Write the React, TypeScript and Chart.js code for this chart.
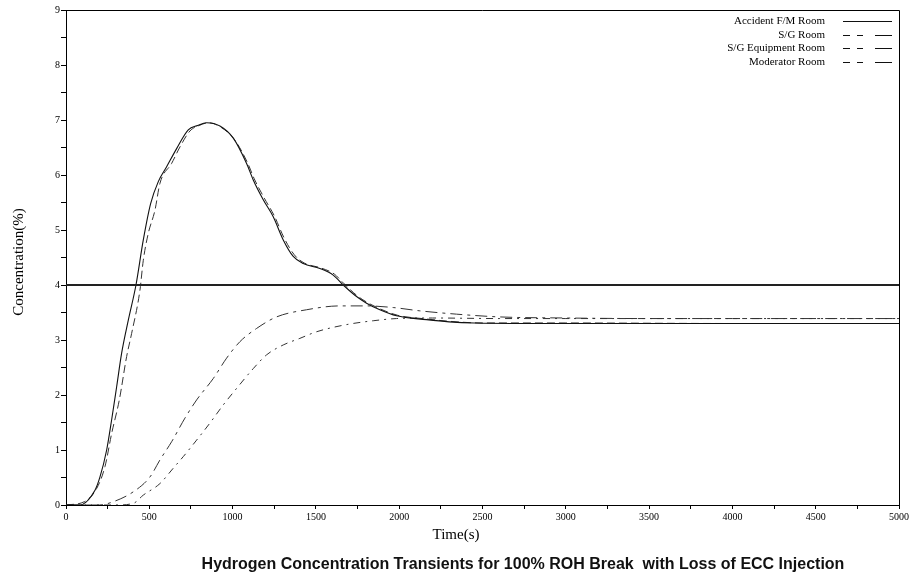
import React, { useEffect, useRef } from "react";
import { Chart, registerables } from "chart.js";

Chart.register(...registerables);

const accidentTime = [0, 80, 174, 204, 244, 274, 304, 334, 374, 420, 464, 508, 554, 604, 664, 734, 790, 844, 924, 1004, 1084, 1124, 1184, 1244, 1304, 1364, 1424, 1524, 1604, 1664, 1744, 1804, 1884, 1984, 2164, 2300, 2450, 3000, 4000, 5000];
const accidentConc = [0, 0, 0.27, 0.51, 1.0, 1.55, 2.15, 2.76, 3.36, 4.0, 4.82, 5.48, 5.88, 6.15, 6.48, 6.82, 6.9, 6.95, 6.89, 6.67, 6.21, 5.91, 5.55, 5.24, 4.82, 4.52, 4.39, 4.3, 4.18, 4.0, 3.79, 3.67, 3.55, 3.44, 3.37, 3.33, 3.31, 3.3, 3.3, 3.3];

const sgTime = [0, 110, 184, 234, 274, 320, 364, 394, 444, 464, 494, 534, 564, 634, 684, 744, 800, 854, 934, 1010, 1090, 1130, 1190, 1250, 1310, 1370, 1430, 1530, 1610, 1670, 1750, 1810, 1890, 1990, 2170, 2300, 2500, 3000, 4000, 5000];
const sgConc = [0, 0.06, 0.3, 0.7, 1.3, 1.91, 2.7, 3.12, 3.91, 4.45, 4.94, 5.36, 5.85, 6.21, 6.51, 6.8, 6.9, 6.95, 6.86, 6.65, 6.22, 5.93, 5.58, 5.26, 4.85, 4.55, 4.4, 4.31, 4.2, 4.02, 3.8, 3.68, 3.56, 3.45, 3.38, 3.34, 3.31, 3.31, 3.3, 3.3];

const equipTime = [0, 200, 284, 404, 504, 564, 634, 714, 784, 884, 964, 1044, 1144, 1264, 1444, 1644, 1804, 1964, 2124, 2344, 2600, 3000, 3500, 4000, 5000];
const equipConc = [0, 0, 0.06, 0.24, 0.51, 0.82, 1.15, 1.58, 1.91, 2.3, 2.67, 2.97, 3.21, 3.42, 3.55, 3.62, 3.62, 3.59, 3.53, 3.47, 3.42, 3.4, 3.39, 3.39, 3.39];

const moderatorTime = [0, 300, 404, 464, 564, 644, 704, 784, 864, 944, 1024, 1124, 1204, 1304, 1404, 1504, 1684, 1844, 1984, 2200, 2600, 3000, 4000, 5000];
const moderatorConc = [0, 0, 0.03, 0.18, 0.39, 0.67, 0.88, 1.18, 1.49, 1.82, 2.12, 2.48, 2.73, 2.91, 3.03, 3.15, 3.28, 3.35, 3.39, 3.4, 3.39, 3.39, 3.39, 3.39];

const limitTime = [0, 5000];
const limitConc = [4, 4];

const seriesLabels = ["Accident F/M Room", "S/G Room", "S/G Equipment Room", "Moderator Room"];
const xTitle = "Time(s)";
const yTitle = "Concentration(%)";
const chartTitle = "Hydrogen Concentration Transients for 100% ROH Break  with Loss of ECC Injection";

const toPoints = (xs: number[], ys: number[]) => xs.map((x, i) => ({ x, y: ys[i] }));

const serif = "'Liberation Serif', 'DejaVu Serif', serif";

const decorPlugin = {
  id: "decor",
  afterDraw(chart: any) {
    const { ctx, chartArea } = chart;
    const { left, right, top, bottom } = chartArea;
    ctx.save();
    ctx.strokeStyle = "#000";
    ctx.lineWidth = 1;
    ctx.setLineDash([]);
    ctx.beginPath();
    ctx.moveTo(left, top + 0.5);
    ctx.lineTo(right + 0.5, top + 0.5);
    ctx.lineTo(right + 0.5, bottom);
    ctx.stroke();

    ctx.font = `11px ${serif}`;
    ctx.fillStyle = "#000";
    ctx.textAlign = "right";
    ctx.textBaseline = "middle";
    const rowsY = [21, 35, 48, 62];
    seriesLabels.forEach((lab, i) => {
      const y = rowsY[i];
      ctx.fillText(lab, 825, y);
      ctx.strokeStyle = "#111";
      ctx.lineWidth = 1;
      ctx.beginPath();
      if (i === 0) {
        ctx.moveTo(843, y + 0.5);
        ctx.lineTo(892, y + 0.5);
      } else {
        const segs = [[843, 850], [857, 863], [875, 892]];
        segs.forEach(([a, b]) => {
          ctx.moveTo(a, y + 0.5);
          ctx.lineTo(b, y + 0.5);
        });
      }
      ctx.stroke();
    });

    ctx.fillStyle = "#000";
    ctx.font = `15px ${serif}`;
    ctx.textAlign = "center";
    ctx.textBaseline = "middle";
    ctx.fillText(xTitle, 456, 535);
    ctx.save();
    ctx.translate(19, 262);
    ctx.rotate(-Math.PI / 2);
    ctx.fillText(yTitle, 0, 0);
    ctx.restore();

    ctx.font = `bold 16px 'Liberation Sans', Arial, sans-serif`;
    ctx.fillStyle = "#111";
    ctx.textAlign = "center";
    ctx.fillText(chartTitle, 523, 565);
    ctx.restore();
  },
};

export default function App() {
  const canvasRef = useRef<HTMLCanvasElement | null>(null);

  useEffect(() => {
    if (!canvasRef.current) return;
    const chart = new Chart(canvasRef.current, {
      type: "line",
      data: {
        datasets: [
          {
            label: "limit",
            data: toPoints(limitTime, limitConc),
            borderColor: "#222",
            borderWidth: 2,
            pointRadius: 0,
            fill: false,
          },
          {
            label: seriesLabels[0],
            data: toPoints(accidentTime, accidentConc),
            borderColor: "#111",
            borderWidth: 1.1,
            pointRadius: 0,
            cubicInterpolationMode: "monotone",
            fill: false,
          },
          {
            label: seriesLabels[1],
            data: toPoints(sgTime, sgConc),
            borderColor: "#333",
            borderWidth: 1,
            borderDash: [8, 4],
            pointRadius: 0,
            cubicInterpolationMode: "monotone",
            fill: false,
          },
          {
            label: seriesLabels[2],
            data: toPoints(equipTime, equipConc),
            borderColor: "#333",
            borderWidth: 1,
            borderDash: [12, 5, 3, 5],
            pointRadius: 0,
            cubicInterpolationMode: "monotone",
            fill: false,
          },
          {
            label: seriesLabels[3],
            data: toPoints(moderatorTime, moderatorConc),
            borderColor: "#333",
            borderWidth: 1,
            borderDash: [7, 5, 2, 5],
            pointRadius: 0,
            cubicInterpolationMode: "monotone",
            fill: false,
          },
        ],
      },
      options: {
        animation: false,
        responsive: true,
        maintainAspectRatio: false,
        layout: { padding: { left: 0, right: 14, top: 10, bottom: 0 } },
        plugins: {
          legend: { display: false },
          tooltip: { enabled: false },
          title: { display: false },
        },
        scales: {
          x: {
            type: "linear",
            min: 0,
            max: 5000,
            afterFit: (scale: any) => {
              scale.height = 72;
            },
            ticks: {
              stepSize: 250,
              autoSkip: false,
              maxRotation: 0,
              padding: 2,
              color: "#000",
              font: { family: serif, size: 10 },
              callback: (v: any) => (Number(v) % 500 === 0 ? String(v) : ""),
            },
            grid: {
              drawOnChartArea: false,
              drawTicks: true,
              tickLength: 4,
              color: "#000",
            },
            border: { display: true, color: "#000", width: 1 },
          },
          y: {
            type: "linear",
            min: 0,
            max: 9,
            afterFit: (scale: any) => {
              scale.width = 66;
            },
            ticks: {
              stepSize: 0.5,
              autoSkip: false,
              padding: 1,
              color: "#000",
              font: { family: serif, size: 10 },
              callback: (v: any) => (Number.isInteger(Number(v)) ? String(v) : ""),
            },
            grid: {
              drawOnChartArea: false,
              drawTicks: true,
              tickLength: 5,
              color: "#000",
            },
            border: { display: true, color: "#000", width: 1 },
          },
        },
      },
      plugins: [decorPlugin],
    } as any);
    return () => chart.destroy();
  }, []);

  return (
    <div style={{ position: "absolute", left: 0, top: 0, width: 913, height: 577, background: "#fff" }}>
      <canvas ref={canvasRef} />
    </div>
  );
}
